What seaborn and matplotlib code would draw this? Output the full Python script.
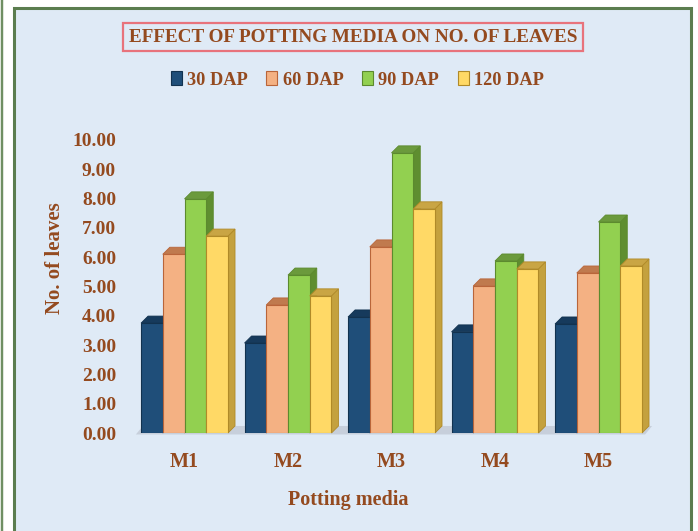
import matplotlib
matplotlib.use("Agg")
import matplotlib.pyplot as plt
from matplotlib.patches import Polygon, Rectangle, Patch
import seaborn as sns
import pandas as pd

# Number of leaves per potting medium at each sampling date
media = ["M1", "M2", "M3", "M4", "M5"]
dap_30 = [3.75, 3.07, 3.96, 3.45, 3.72]
dap_60 = [6.10, 4.37, 6.35, 5.02, 5.46]
dap_90 = [7.99, 5.39, 9.56, 5.87, 7.20]
dap_120 = [6.72, 4.68, 7.65, 5.60, 5.70]
series = ["30 DAP", "60 DAP", "90 DAP", "120 DAP"]
y_ticks = [0, 1, 2, 3, 4, 5, 6, 7, 8, 9, 10]

front = ["#1f4e79", "#f4b183", "#92d050", "#ffd966"]
top = ["#163a5c", "#c07a4e", "#6b9a3c", "#c9a544"]
side = ["#143552", "#c98a5e", "#5f8e30", "#c4a13e"]
edge = ["#12324f", "#b9653a", "#5c8a2e", "#b08a28"]
text_c = "#944a1f"
bg = "#dfeaf6"

df = pd.DataFrame({
    "media": media * 4,
    "series": sum([[s] * 5 for s in series], []),
    "value": dap_30 + dap_60 + dap_90 + dap_120,
})

sns.set_theme(style="white")
plt.rcParams["font.family"] = ["Liberation Serif", "DejaVu Serif"]
plt.rcParams["font.weight"] = "bold"

fig = plt.figure(figsize=(6.98, 5.31), dpi=100)
fig.patch.set_facecolor("white")
# chart frame
fig.add_artist(Rectangle((14 / 698, -0.05), (691 - 14) / 698, 1 - 8 / 531 + 0.05,
                         transform=fig.transFigure, facecolor=bg,
                         edgecolor="#5b7d4f", linewidth=2.2, zorder=0))
fig.add_artist(Rectangle((2 / 698, -0.05), 0, 1.2, transform=fig.transFigure,
                         facecolor="none", edgecolor="#6f8f63", linewidth=1.6, zorder=0))

ax = fig.add_axes([130 / 698, (531 - 433) / 531, (660 - 130) / 698, (433 - 140) / 531])
ax.set_facecolor("none")

sns.barplot(data=df, x="media", y="value", hue="series", order=media,
            hue_order=series, palette=front, width=0.84, ax=ax,
            legend=False, errorbar=None, saturation=1, zorder=3)

dx, dy = 0.068, 0.24

# floor under the columns
x_lo, x_hi = -0.47, 4.45
ax.add_patch(Polygon([(x_lo, -0.05), (x_hi, -0.05), (x_hi + dx, dy), (x_lo + dx, dy)],
                     closed=True, facecolor="#c7cfdb", edgecolor="none",
                     zorder=1, clip_on=False))

for i, bar in enumerate(ax.patches[:20]):
    k = i // 5
    x0 = bar.get_x()
    w = bar.get_width()
    h = bar.get_height()
    bar.set_edgecolor(edge[k])
    bar.set_linewidth(0.8)
    bar.set_zorder(4 + k * 0.1)
    ax.add_patch(Polygon([(x0 + w, 0), (x0 + w + dx, dy), (x0 + w + dx, h + dy), (x0 + w, h)],
                         closed=True, facecolor=side[k], edgecolor=edge[k],
                         linewidth=0.6, zorder=3.95 + k * 0.1, clip_on=False))
    ax.add_patch(Polygon([(x0, h), (x0 + w, h), (x0 + w + dx, h + dy), (x0 + dx, h + dy)],
                         closed=True, facecolor=top[k], edgecolor=edge[k],
                         linewidth=0.6, zorder=4.05 + k * 0.1, clip_on=False))

ax.set_xlim((130 - 184.5) / 103.5, (660 - 184.5) / 103.5)
ax.set_ylim(0, 10)
ax.set_yticks(y_ticks)
ax.set_yticklabels([f"{v:.2f}" for v in y_ticks])
ax.tick_params(axis="y", length=0, pad=10, labelsize=14, labelcolor=text_c)
ax.tick_params(axis="x", length=0, pad=14, labelsize=14.5, labelcolor=text_c)
for lbl in ax.get_xticklabels() + ax.get_yticklabels():
    lbl.set_fontweight("bold")
for s in ax.spines.values():
    s.set_visible(False)
ax.grid(False)
ax.set_xlabel("Potting media", fontsize=14.5, fontweight="bold", color=text_c)
ax.set_ylabel("No. of leaves", fontsize=15, fontweight="bold", color=text_c)
ax.xaxis.set_label_coords((348 - 130) / 530, (433 - 500) / 293)
ax.yaxis.set_label_coords((55 - 130) / 530, (433 - 258) / 293)
ax.xaxis.label.set_va("center")
ax.yaxis.label.set_va("center")

fig.text(0.506, 1 - 37 / 531, "EFFECT OF POTTING MEDIA ON NO. OF LEAVES",
         ha="center", va="center", fontsize=13.8, fontweight="bold", color=text_c,
         bbox=dict(boxstyle="square,pad=0.3", facecolor="none",
                   edgecolor="#e8737c", linewidth=1.6))

handles = [Patch(facecolor=front[k], edgecolor=edge[k], linewidth=0.8) for k in range(4)]
fig.legend(handles, series, loc="center", bbox_to_anchor=(0.512, 1 - 80 / 531),
           ncol=4, frameon=False, handlelength=0.6, handleheight=0.75,
           handletextpad=0.3, columnspacing=1.0,
           prop={"family": "Liberation Serif", "weight": "bold", "size": 13.2},
           labelcolor=text_c)

fig.savefig("out.png", dpi=100, facecolor=fig.get_facecolor())
